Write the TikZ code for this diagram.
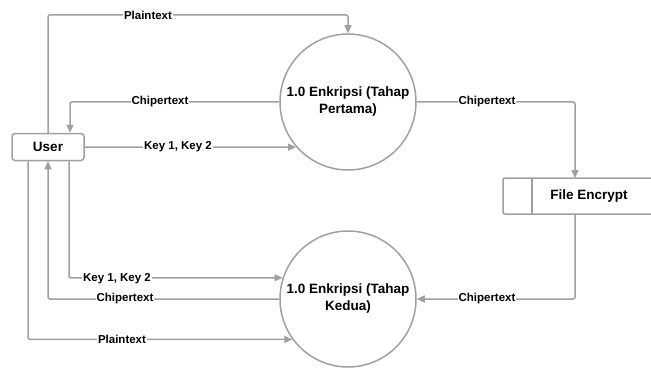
\documentclass[tikz,border=0pt]{standalone}
\usepackage{fontspec}
\setmainfont{Liberation Sans}
\usetikzlibrary{arrows.meta}
\definecolor{lg}{RGB}{160,160,160}
\begin{document}
\begin{tikzpicture}[x=1pt,y=-1pt,
  flow/.style={draw=lg,line width=1.5pt,-{Triangle[length=8pt,width=7pt]},rounded corners=2pt},
  lbl/.style={fill=white,inner sep=0.8pt,font=\fontsize{11.5}{13}\selectfont\bfseries},
  ent/.style={draw=lg,line width=1.5pt,rounded corners=3pt,minimum width=72pt,minimum height=27pt,font=\fontsize{13.5}{16}\selectfont\bfseries},
  proc/.style={draw=lg,line width=1.5pt,circle,minimum size=136pt,inner sep=0pt,align=center,font=\fontsize{13.5}{17}\selectfont\bfseries}]
\useasboundingbox (0,0) rectangle (651,369);
\node[ent] (user) at (48,147) {User};
\node[proc] (c1) at (348,102) {1.0 Enkripsi (Tahap\\Pertama)};
\node[proc] (c2) at (348,299) {1.0 Enkripsi (Tahap\\Kedua)};
% data store
\draw[lg,line width=1.5pt,rounded corners=2pt] (652,178) -- (503,178) -- (503,214) -- (652,214);
\draw[lg,line width=1.5pt] (532,178) -- (532,214);
\node[font=\fontsize{13.5}{16}\selectfont\bfseries] (fe) at (589,196) {File Encrypt};
\coordinate (fetop) at (575,178);
\coordinate (febot) at (575,214);
\coordinate (toprow) at (0,15);
% connectors
\draw[flow] (user.north) -- (user.north |- toprow) -| (c1.north);
\draw[flow] (c1.west) -| ([xshift=22pt]user.north);
\draw[flow] (user.east) -- (c1.221.43);
\draw[flow] (c1.east) -| (fetop);
\draw[flow] (febot) |- (c2.east);
\draw[flow] ([xshift=21pt]user.south) |- (c2.162.9);
\draw[flow] (c2.west) -| (user.south);
\draw[flow] ([xshift=-20pt]user.south) |- (c2.216);
% labels
\node[lbl] at (148,15) {Plaintext};
\node[lbl] at (160,102) {Chipertext};
\node[lbl] at (178,147) {Key 1, Key 2};
\node[lbl] at (487,102) {Chipertext};
\node[lbl] at (487,299) {Chipertext};
\node[lbl] at (117,279) {Key 1, Key 2};
\node[lbl] at (125,299) {Chipertext};
\node[lbl] at (122,339) {Plaintext};
\end{tikzpicture}
\end{document}
